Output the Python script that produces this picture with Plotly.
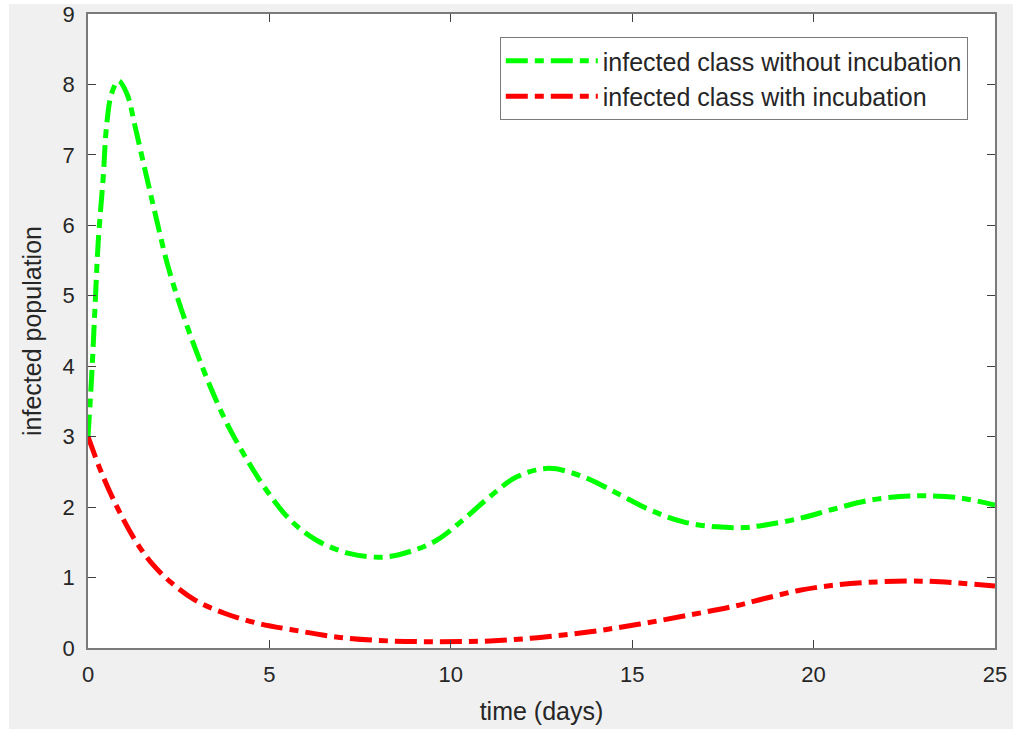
import plotly.graph_objects as go

# time (days) and values
t_without = [0, 0.1, 0.19, 0.28, 0.42, 0.51, 0.65, 0.84, 1.07, 1.30, 1.57, 1.85, 2.21, 2.67,
             3.22, 3.78, 4.33, 4.92, 5.57, 6.30, 7.22, 8.14, 8.88, 9.61, 10.34, 11.08, 11.82,
             12.7, 13.65, 14.57, 15.49, 16.41, 17.33, 18.1, 18.71, 19.62, 20.54, 21.46, 22.38,
             23.12, 24.04, 25]
y_without = [3.0, 3.85, 4.80, 5.75, 6.69, 7.40, 7.87, 8.05, 7.87, 7.40, 6.79, 6.17, 5.41, 4.66,
             3.90, 3.24, 2.72, 2.24, 1.82, 1.53, 1.34, 1.29, 1.37, 1.53, 1.82, 2.15, 2.43,
             2.55, 2.43, 2.20, 1.96, 1.79, 1.72, 1.71, 1.75, 1.84, 1.97, 2.09, 2.15,
             2.16, 2.13, 2.03]

t_with = [0, 0.38, 0.84, 1.30, 1.76, 2.31, 2.95, 3.78, 4.69, 5.61, 6.95, 8.32, 9.70, 11.08,
          12.46, 13.84, 15.21, 16.59, 17.79, 18.71, 19.62, 20.54, 21.46, 22.57, 23.48, 25]
y_with = [3.0, 2.48, 1.96, 1.53, 1.20, 0.92, 0.68, 0.49, 0.35, 0.26, 0.15, 0.10, 0.09, 0.10,
          0.15, 0.23, 0.34, 0.47, 0.59, 0.71, 0.82, 0.89, 0.93, 0.95, 0.94, 0.88]

x_ticks = [0, 5, 10, 15, 20, 25]
y_ticks = [0, 1, 2, 3, 4, 5, 6, 7, 8, 9]

series_names = ["infected class without incubation", "infected class with incubation"]

DASH = "22px,7px,9px,7px"
FONT = "Liberation Sans, Arial, sans-serif"
TXT = "#262626"

fig = go.Figure()
fig.add_trace(go.Scatter(x=t_without, y=y_without, mode="lines", name=series_names[0],
                         line=dict(color="#00ff00", width=5, dash=DASH, shape="spline", smoothing=1.0)))
fig.add_trace(go.Scatter(x=t_with, y=y_with, mode="lines", name=series_names[1],
                         line=dict(color="#ff0000", width=5, dash=DASH, shape="spline", smoothing=1.0)))

axis_common = dict(
    showline=True, linecolor="#7a7a7a", linewidth=1.5, mirror="ticks",
    ticks="inside", ticklen=8, tickwidth=1, tickcolor="#404040",
    showgrid=False, zeroline=False, automargin=False,
    tickfont=dict(family=FONT, size=22, color=TXT),
)

fig.update_layout(
    width=1013, height=729,
    margin=dict(l=88, r=18, t=14, b=81, autoexpand=False),
    paper_bgcolor="#f0f0f0", plot_bgcolor="#ffffff",
    xaxis=dict(range=[0, 25], tickvals=x_ticks, ticklabelstandoff=6,
               title=dict(text="time (days)", font=dict(family=FONT, size=25, color=TXT), standoff=16),
               **axis_common),
    yaxis=dict(range=[0, 9], tickvals=y_ticks, ticklabelstandoff=7,
               title=dict(text="infected population", font=dict(family=FONT, size=25, color=TXT), standoff=14),
               **axis_common),
    legend=dict(x=0.970, y=0.9637, xanchor="right", yanchor="top",
                bgcolor="#ffffff", bordercolor="#7a7a7a", borderwidth=1,
                font=dict(family=FONT, size=25, color=TXT),
                itemwidth=92, tracegroupgap=0),
    showlegend=True,
    shapes=[
        dict(type="rect", xref="paper", yref="paper", x0=-0.0975, x1=-0.0871, y0=-0.13, y1=1.03,
             fillcolor="#ffffff", line=dict(width=0), layer="below"),
        dict(type="rect", xref="paper", yref="paper", x0=-0.0975, x1=1.03, y0=1.0158, y1=1.03,
             fillcolor="#ffffff", line=dict(width=0), layer="below"),
    ],
)

fig.write_html("out.html", config={"displayModeBar": False},
               post_script="document.body.style.margin='0';document.body.style.overflow='hidden';")
